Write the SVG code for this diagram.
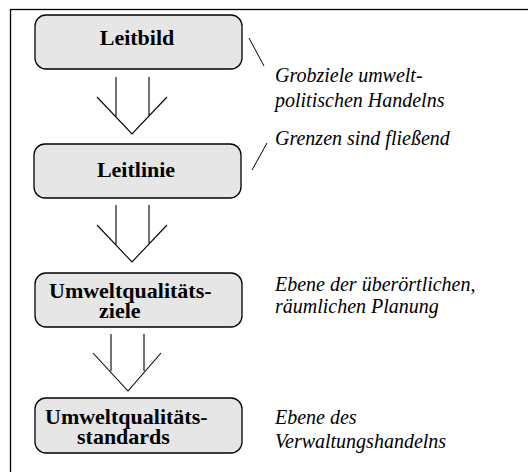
<svg xmlns="http://www.w3.org/2000/svg" width="528" height="472" viewBox="0 0 528 472">
  <style>
    .box { fill: #e6e6e6; stroke: #000; stroke-width: 1.3; }
    .lbl { font-family: "Liberation Serif", "Times New Roman", serif; font-weight: bold; font-size: 22px; fill: #000; }
    .note { font-family: "Liberation Serif", "Times New Roman", serif; font-style: italic; font-size: 20px; fill: #000; }
    .arrow { fill: none; stroke: #000; stroke-width: 1.1; }
    .tick { fill: none; stroke: #000; stroke-width: 1; }
  </style>
  <rect width="528" height="472" fill="#fff"/>
  <!-- outer frame (only top and left edges fall inside the page) -->
  <rect x="10.5" y="9.5" width="540" height="480" fill="none" stroke="#000" stroke-width="1.3"/>

  <g id="connectors">
    <!-- open double-shaft arrows between the levels -->
    <path class="arrow" d="M116,77 V117 M149,77 V117 M97,97 L132,134 L167,97"/>
    <path class="arrow" d="M116,205 V245 M149,205 V245 M97,225 L132,262 L167,225"/>
    <path class="arrow" d="M111,334 V371 M144,334 V371 M93,353 L128,391 L161,353"/>
    <!-- short ticks linking notes to the boxes -->
    <path class="tick" d="M249,38 L264,66"/>
    <path class="tick" d="M267,143 L252,170"/>
  </g>

  <g id="leitbild">
    <rect class="box" x="35" y="15" width="207" height="54" rx="11"/>
    <text class="lbl" x="137" y="45" text-anchor="middle">Leitbild</text>
  </g>
  <g id="leitlinie">
    <rect class="box" x="34" y="144" width="207" height="54" rx="11"/>
    <text class="lbl" x="136" y="177" text-anchor="middle">Leitlinie</text>
  </g>
  <g id="umweltqualitaetsziele">
    <rect class="box" x="35" y="273" width="207" height="54" rx="11"/>
    <text class="lbl" x="49" y="298">Umweltqualitäts-</text>
    <text class="lbl" x="99" y="318">ziele</text>
  </g>
  <g id="umweltqualitaetsstandards">
    <rect class="box" x="35" y="398" width="207" height="55" rx="11"/>
    <text class="lbl" x="45" y="424">Umweltqualitäts-</text>
    <text class="lbl" x="77" y="444">standards</text>
  </g>

  <g id="notes">
    <text class="note" x="275" y="82">Grobziele umwelt-</text>
    <text class="note" x="275" y="107">politischen Handelns</text>
    <text class="note" x="275" y="145">Grenzen sind fließend</text>
    <text class="note" x="275" y="291">Ebene der überörtlichen,</text>
    <text class="note" x="275" y="313">räumlichen Planung</text>
    <text class="note" x="275" y="424">Ebene des</text>
    <text class="note" x="275" y="448">Verwaltungshandelns</text>
  </g>
</svg>
